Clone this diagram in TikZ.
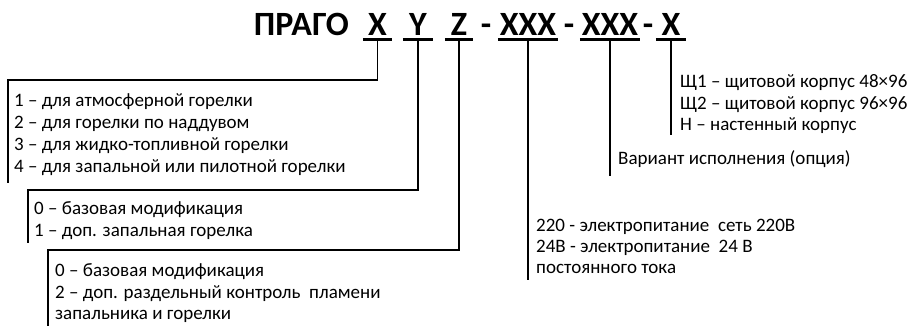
\documentclass[tikz,border=0pt]{standalone}
\usepackage{fontspec}
\setmainfont{Carlito}
\begin{document}
\begin{tikzpicture}[x=1pt,y=-1pt,
  txt/.style={anchor=base west,inner sep=0pt,font=\fontsize{19}{22}\selectfont},
  ttl/.style={anchor=base,inner sep=0pt,font=\fontsize{34}{40}\selectfont\bfseries},
  uline/.style={line width=3pt},
  conn/.style={line width=1.4pt}]
\useasboundingbox (0,0) rectangle (915,325);
% title
\node[ttl,anchor=base east] (prago) at (349,35) {ПРАГО};
\node[ttl,minimum width=29pt] (tX) at (377.5,35) {X};
\node[ttl,minimum width=30pt] (tY) at (418,35) {Y};
\node[ttl,minimum width=28pt] (tZ) at (459,35) {Z};
\node[ttl] (d1) at (486,35) {-};
\node[ttl,minimum width=60pt] (tA) at (528,35) {XXX};
\node[ttl] (d2) at (569,35) {-};
\node[ttl,minimum width=60pt] (tB) at (610,35) {XXX};
\node[ttl] (d3) at (648,35) {-};
\node[ttl,minimum width=30pt] (tC) at (671,35) {X};
\foreach \t in {tX,tY,tZ,tA,tB,tC}{
  \draw[uline] ([yshift=-4.5pt]\t.base west) -- ([yshift=-4.5pt]\t.base east);
  \coordinate (u\t) at ([yshift=-4.5pt]\t.base);
}
% bracket corners and free ends
\coordinate (k1) at (8,80);   \coordinate (k1e) at (8,183);
\coordinate (k2) at (28,190); \coordinate (k2e) at (28,243);
\coordinate (k3) at (48,250); \coordinate (k3e) at (48,326);
\coordinate (eA) at (528,280);
\coordinate (eB) at (610,176);
\coordinate (eC) at (671,135);
\draw[conn] (utX) |- (k1) -- (k1e);
\draw[conn] (utY) |- (k2) -- (k2e);
\draw[conn] (utZ) |- (k3) -- (k3e);
\draw[conn] (utA) -- (utA |- eA);
\draw[conn] (utB) -- (utB |- eB);
\draw[conn] (utC) -- (utC |- eC);
% box 1
\node[txt] (a1) at (14,106) {1 – для атмосферной горелки};
\node[txt] (a2) at (14,128) {2 – для горелки по наддувом};
\node[txt] (a3) at (14,150) {3 – для жидко-топливной горелки};
\node[txt] (a4) at (14,172) {4 – для запальной или пилотной горелки};
% box 2
\node[txt] (b1) at (34,214) {0 – базовая модификация};
\node[txt] (b2) at (34,236) {1 – доп. запальная горелка};
% box 3
\node[txt] (c1) at (55,276) {0 – базовая модификация};
\node[txt] (c2) at (55,298) {2 – доп. раздельный контроль\ \ пламени};
\node[txt] (c3) at (55,319) {запальника и горелки};
% XXX 1
\node[txt] (p1) at (536,231) {220 - электропитание\ \ сеть 220В};
\node[txt] (p2) at (536,252) {24В - электропитание\ \ 24 В};
\node[txt] (p3) at (536,273) {постоянного тока};
% XXX 2
\node[txt] (v1) at (618,164) {Вариант исполнения (опция)};
% X
\node[txt] (h1) at (680,87) {Щ1 – щитовой корпус 48×96};
\node[txt] (h2) at (680,109) {Щ2 – щитовой корпус 96×96};
\node[txt] (h3) at (680,130) {Н – настенный корпус};
\end{tikzpicture}
\end{document}
